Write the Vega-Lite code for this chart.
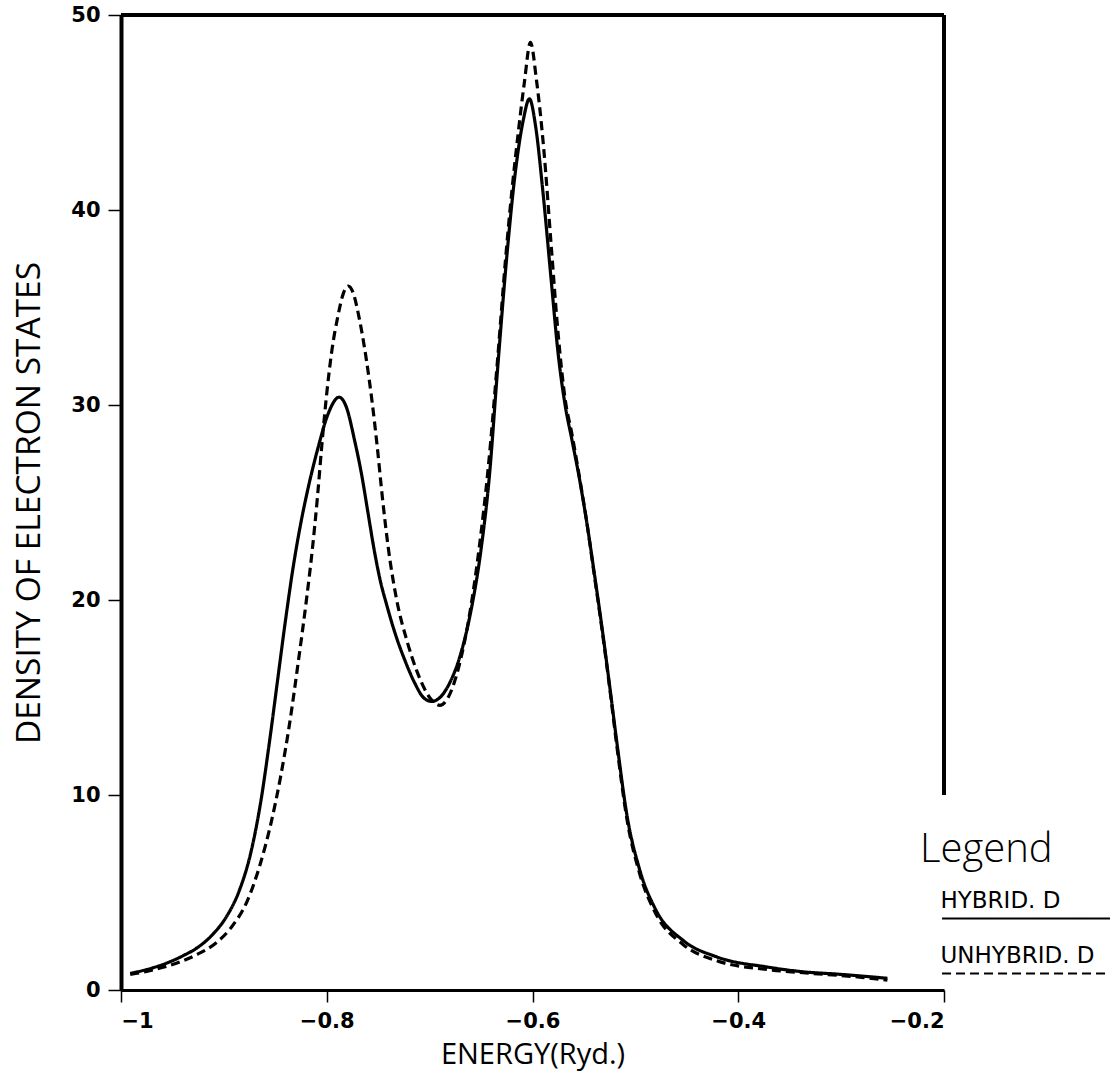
{
  "$schema": "https://vega.github.io/schema/vega-lite/v6.json",
  "width": 823,
  "height": 975,
  "autosize": {"type": "none"},
  "padding": {"left": 121, "top": 15, "right": 174, "bottom": 100},
  "background": "white",
  "config": {"view": {"stroke": null}},
  "datasets": {
    "curves": [
      {"energy": -0.991, "density": 0.85, "series": "HYBRID. D"},
      {"energy": -0.975, "density": 1.05, "series": "HYBRID. D"},
      {"energy": -0.957, "density": 1.35, "series": "HYBRID. D"},
      {"energy": -0.94, "density": 1.75, "series": "HYBRID. D"},
      {"energy": -0.925, "density": 2.2, "series": "HYBRID. D"},
      {"energy": -0.91, "density": 2.9, "series": "HYBRID. D"},
      {"energy": -0.897, "density": 3.8, "series": "HYBRID. D"},
      {"energy": -0.885, "density": 5.1, "series": "HYBRID. D"},
      {"energy": -0.874, "density": 7.0, "series": "HYBRID. D"},
      {"energy": -0.864, "density": 9.7, "series": "HYBRID. D"},
      {"energy": -0.856, "density": 12.6, "series": "HYBRID. D"},
      {"energy": -0.848, "density": 15.8, "series": "HYBRID. D"},
      {"energy": -0.84, "density": 19.0, "series": "HYBRID. D"},
      {"energy": -0.832, "density": 21.9, "series": "HYBRID. D"},
      {"energy": -0.825, "density": 24.0, "series": "HYBRID. D"},
      {"energy": -0.817, "density": 26.0, "series": "HYBRID. D"},
      {"energy": -0.808, "density": 27.9, "series": "HYBRID. D"},
      {"energy": -0.799, "density": 29.5, "series": "HYBRID. D"},
      {"energy": -0.788, "density": 30.4, "series": "HYBRID. D"},
      {"energy": -0.781, "density": 29.9, "series": "HYBRID. D"},
      {"energy": -0.773, "density": 28.2, "series": "HYBRID. D"},
      {"energy": -0.766, "density": 26.4, "series": "HYBRID. D"},
      {"energy": -0.76, "density": 24.5, "series": "HYBRID. D"},
      {"energy": -0.754, "density": 22.6, "series": "HYBRID. D"},
      {"energy": -0.748, "density": 21.0, "series": "HYBRID. D"},
      {"energy": -0.742, "density": 19.8, "series": "HYBRID. D"},
      {"energy": -0.733, "density": 18.2, "series": "HYBRID. D"},
      {"energy": -0.724, "density": 16.9, "series": "HYBRID. D"},
      {"energy": -0.715, "density": 15.8, "series": "HYBRID. D"},
      {"energy": -0.706, "density": 15.0, "series": "HYBRID. D"},
      {"energy": -0.698, "density": 14.8, "series": "HYBRID. D"},
      {"energy": -0.69, "density": 15.0, "series": "HYBRID. D"},
      {"energy": -0.68, "density": 15.8, "series": "HYBRID. D"},
      {"energy": -0.67, "density": 17.2, "series": "HYBRID. D"},
      {"energy": -0.66, "density": 19.4, "series": "HYBRID. D"},
      {"energy": -0.65, "density": 22.6, "series": "HYBRID. D"},
      {"energy": -0.642, "density": 26.3, "series": "HYBRID. D"},
      {"energy": -0.634, "density": 31.8, "series": "HYBRID. D"},
      {"energy": -0.625, "density": 37.6, "series": "HYBRID. D"},
      {"energy": -0.617, "density": 41.8, "series": "HYBRID. D"},
      {"energy": -0.609, "density": 44.6, "series": "HYBRID. D"},
      {"energy": -0.603, "density": 45.7, "series": "HYBRID. D"},
      {"energy": -0.597, "density": 44.3, "series": "HYBRID. D"},
      {"energy": -0.59, "density": 41.0, "series": "HYBRID. D"},
      {"energy": -0.582, "density": 36.5, "series": "HYBRID. D"},
      {"energy": -0.575, "density": 32.6, "series": "HYBRID. D"},
      {"energy": -0.568, "density": 29.9, "series": "HYBRID. D"},
      {"energy": -0.562, "density": 28.3, "series": "HYBRID. D"},
      {"energy": -0.555, "density": 26.4, "series": "HYBRID. D"},
      {"energy": -0.547, "density": 23.9, "series": "HYBRID. D"},
      {"energy": -0.54, "density": 21.4, "series": "HYBRID. D"},
      {"energy": -0.533, "density": 18.8, "series": "HYBRID. D"},
      {"energy": -0.525, "density": 15.6, "series": "HYBRID. D"},
      {"energy": -0.518, "density": 12.7, "series": "HYBRID. D"},
      {"energy": -0.508, "density": 8.9, "series": "HYBRID. D"},
      {"energy": -0.496, "density": 6.2, "series": "HYBRID. D"},
      {"energy": -0.48, "density": 4.1, "series": "HYBRID. D"},
      {"energy": -0.454, "density": 2.56, "series": "HYBRID. D"},
      {"energy": -0.421, "density": 1.7, "series": "HYBRID. D"},
      {"energy": -0.372, "density": 1.18, "series": "HYBRID. D"},
      {"energy": -0.34, "density": 0.95, "series": "HYBRID. D"},
      {"energy": -0.3, "density": 0.8, "series": "HYBRID. D"},
      {"energy": -0.255, "density": 0.6, "series": "HYBRID. D"},
      {"energy": -0.991, "density": 0.8, "series": "UNHYBRID. D"},
      {"energy": -0.975, "density": 0.95, "series": "UNHYBRID. D"},
      {"energy": -0.96, "density": 1.15, "series": "UNHYBRID. D"},
      {"energy": -0.942, "density": 1.45, "series": "UNHYBRID. D"},
      {"energy": -0.925, "density": 1.85, "series": "UNHYBRID. D"},
      {"energy": -0.908, "density": 2.4, "series": "UNHYBRID. D"},
      {"energy": -0.893, "density": 3.2, "series": "UNHYBRID. D"},
      {"energy": -0.877, "density": 4.6, "series": "UNHYBRID. D"},
      {"energy": -0.865, "density": 6.4, "series": "UNHYBRID. D"},
      {"energy": -0.854, "density": 8.6, "series": "UNHYBRID. D"},
      {"energy": -0.845, "density": 10.9, "series": "UNHYBRID. D"},
      {"energy": -0.836, "density": 13.7, "series": "UNHYBRID. D"},
      {"energy": -0.828, "density": 16.7, "series": "UNHYBRID. D"},
      {"energy": -0.82, "density": 19.9, "series": "UNHYBRID. D"},
      {"energy": -0.814, "density": 22.6, "series": "UNHYBRID. D"},
      {"energy": -0.809, "density": 25.3, "series": "UNHYBRID. D"},
      {"energy": -0.805, "density": 27.8, "series": "UNHYBRID. D"},
      {"energy": -0.8, "density": 30.6, "series": "UNHYBRID. D"},
      {"energy": -0.795, "density": 32.8, "series": "UNHYBRID. D"},
      {"energy": -0.789, "density": 34.6, "series": "UNHYBRID. D"},
      {"energy": -0.784, "density": 35.7, "series": "UNHYBRID. D"},
      {"energy": -0.779, "density": 36.1, "series": "UNHYBRID. D"},
      {"energy": -0.774, "density": 35.7, "series": "UNHYBRID. D"},
      {"energy": -0.769, "density": 34.6, "series": "UNHYBRID. D"},
      {"energy": -0.762, "density": 32.5, "series": "UNHYBRID. D"},
      {"energy": -0.756, "density": 30.2, "series": "UNHYBRID. D"},
      {"energy": -0.751, "density": 27.9, "series": "UNHYBRID. D"},
      {"energy": -0.746, "density": 25.3, "series": "UNHYBRID. D"},
      {"energy": -0.74, "density": 22.6, "series": "UNHYBRID. D"},
      {"energy": -0.732, "density": 20.0, "series": "UNHYBRID. D"},
      {"energy": -0.722, "density": 17.9, "series": "UNHYBRID. D"},
      {"energy": -0.712, "density": 16.3, "series": "UNHYBRID. D"},
      {"energy": -0.7, "density": 15.0, "series": "UNHYBRID. D"},
      {"energy": -0.69, "density": 14.6, "series": "UNHYBRID. D"},
      {"energy": -0.682, "density": 15.0, "series": "UNHYBRID. D"},
      {"energy": -0.672, "density": 16.5, "series": "UNHYBRID. D"},
      {"energy": -0.662, "density": 19.0, "series": "UNHYBRID. D"},
      {"energy": -0.652, "density": 22.6, "series": "UNHYBRID. D"},
      {"energy": -0.643, "density": 26.8, "series": "UNHYBRID. D"},
      {"energy": -0.634, "density": 32.3, "series": "UNHYBRID. D"},
      {"energy": -0.626, "density": 37.6, "series": "UNHYBRID. D"},
      {"energy": -0.62, "density": 41.0, "series": "UNHYBRID. D"},
      {"energy": -0.614, "density": 43.9, "series": "UNHYBRID. D"},
      {"energy": -0.608, "density": 46.5, "series": "UNHYBRID. D"},
      {"energy": -0.602, "density": 48.6, "series": "UNHYBRID. D"},
      {"energy": -0.596, "density": 46.6, "series": "UNHYBRID. D"},
      {"energy": -0.589, "density": 43.1, "series": "UNHYBRID. D"},
      {"energy": -0.582, "density": 38.3, "series": "UNHYBRID. D"},
      {"energy": -0.575, "density": 33.6, "series": "UNHYBRID. D"},
      {"energy": -0.568, "density": 30.2, "series": "UNHYBRID. D"},
      {"energy": -0.562, "density": 28.6, "series": "UNHYBRID. D"},
      {"energy": -0.555, "density": 26.5, "series": "UNHYBRID. D"},
      {"energy": -0.547, "density": 23.9, "series": "UNHYBRID. D"},
      {"energy": -0.54, "density": 21.3, "series": "UNHYBRID. D"},
      {"energy": -0.533, "density": 18.7, "series": "UNHYBRID. D"},
      {"energy": -0.525, "density": 15.5, "series": "UNHYBRID. D"},
      {"energy": -0.518, "density": 12.5, "series": "UNHYBRID. D"},
      {"energy": -0.508, "density": 8.7, "series": "UNHYBRID. D"},
      {"energy": -0.496, "density": 6.0, "series": "UNHYBRID. D"},
      {"energy": -0.48, "density": 3.9, "series": "UNHYBRID. D"},
      {"energy": -0.454, "density": 2.35, "series": "UNHYBRID. D"},
      {"energy": -0.421, "density": 1.5, "series": "UNHYBRID. D"},
      {"energy": -0.372, "density": 1.05, "series": "UNHYBRID. D"},
      {"energy": -0.34, "density": 0.9, "series": "UNHYBRID. D"},
      {"energy": -0.308, "density": 0.77, "series": "UNHYBRID. D"},
      {"energy": -0.28, "density": 0.65, "series": "UNHYBRID. D"},
      {"energy": -0.255, "density": 0.5, "series": "UNHYBRID. D"}
    ]
  },
  "layer": [
    {
      "data": {"name": "curves"},
      "mark": {"type": "line", "color": "black", "strokeWidth": 3.2, "interpolate": "monotone"},
      "encoding": {
        "x": {
          "field": "energy", "type": "quantitative",
          "scale": {"domain": [-1, -0.2], "nice": false, "zero": false},
          "axis": {
            "values": [-1, -0.8, -0.6, -0.4, -0.2], "format": "~g", "grid": false,
            "domainColor": "black", "domainWidth": 3, "tickColor": "black", "tickWidth": 1.5, "tickSize": 12,
            "labelFont": "DejaVu Sans", "labelFontSize": 21, "labelFontWeight": "bold", "labelColor": "black", "labelPadding": 8, "labelOverlap": false,
            "title": "ENERGY(Ryd.)", "titleFont": "Open Sans", "titleFontSize": 29, "titleFontWeight": "normal", "titleColor": "black", "titlePadding": 9
          }
        },
        "y": {
          "field": "density", "type": "quantitative",
          "scale": {"domain": [0, 50], "nice": false},
          "axis": {
            "values": [0, 10, 20, 30, 40, 50], "format": "d", "grid": false,
            "domainColor": "black", "domainWidth": 4, "tickColor": "black", "tickWidth": 1.5, "tickSize": 13,
            "labelFont": "DejaVu Sans", "labelFontSize": 21, "labelFontWeight": "bold", "labelColor": "black", "labelPadding": 8,
            "title": "DENSITY OF ELECTRON STATES", "titleFont": "Open Sans", "titleFontSize": 33.5, "titleFontWeight": "normal", "titleColor": "black", "titlePadding": 24
          }
        },
        "strokeDash": {
          "field": "series", "type": "nominal",
          "scale": {"domain": ["HYBRID. D", "UNHYBRID. D"], "range": [[1, 0], [9, 5]]},
          "legend": {
            "orient": "none", "legendX": 799, "legendY": 815, "padding": 0,
            "title": "Legend", "titleFont": "Open Sans", "titleFontSize": 40, "titleFontWeight": 300, "titleColor": "black", "titlePadding": 31,
            "labelFont": "DejaVu Sans", "labelFontSize": 23, "labelColor": "black", "labelBaseline": "bottom", "labelOffset": -97, "labelLimit": 300,
            "symbolType": "M-10,0.7H10", "symbolSize": 282, "symbolStrokeColor": "black", "symbolStrokeWidth": 2, "symbolOffset": 94.5,
            "rowPadding": 21
          }
        }
      }
    },
    {
      "data": {"values": [{}]},
      "mark": {"type": "rule", "color": "black", "strokeWidth": 4},
      "encoding": {"x": {"datum": -1}, "x2": {"datum": -0.2}, "y": {"datum": 50}}
    },
    {
      "data": {"values": [{}]},
      "mark": {"type": "rule", "color": "black", "strokeWidth": 4},
      "encoding": {"x": {"datum": -0.2}, "y": {"datum": 10}, "y2": {"datum": 50}}
    }
  ]
}
